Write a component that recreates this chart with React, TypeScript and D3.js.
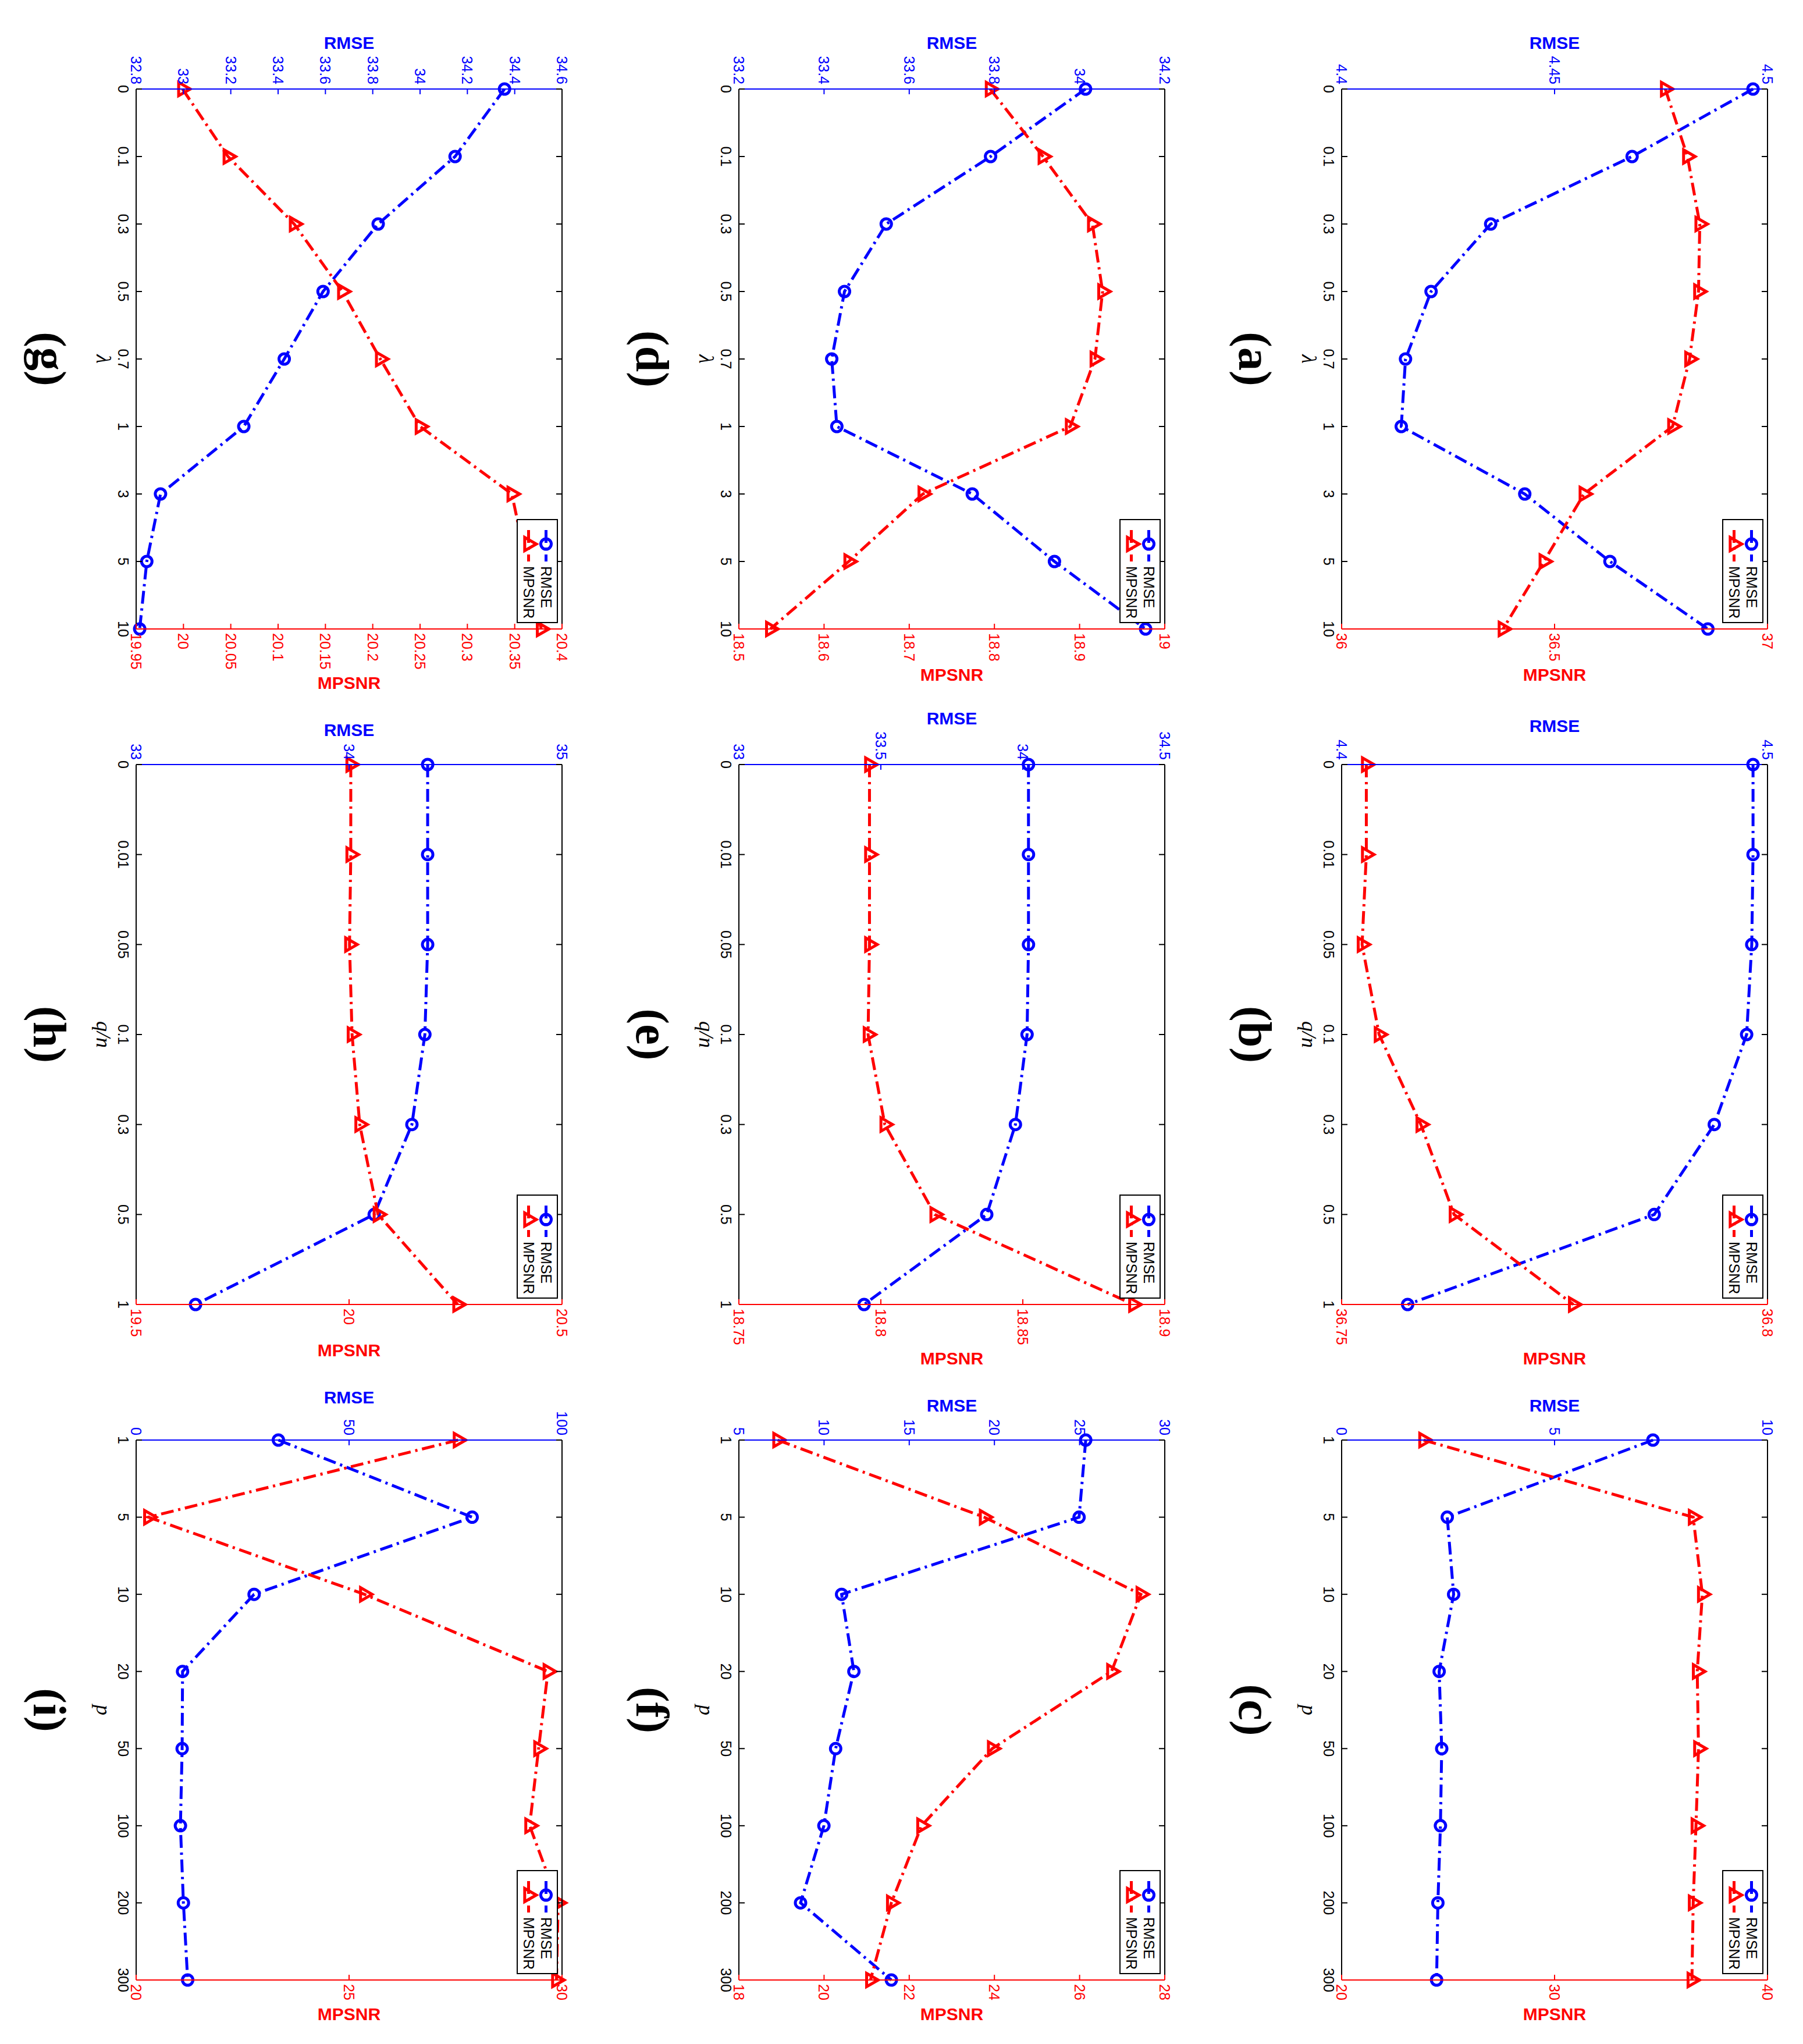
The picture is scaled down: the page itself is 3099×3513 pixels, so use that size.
import React from "react";
import * as d3 from "d3";

// category labels on the shared x axis
const lambdaCats = ["0", "0.1", "0.3", "0.5", "0.7", "1", "3", "5", "10"];
const qnCats = ["0", "0.01", "0.05", "0.1", "0.3", "0.5", "1"];
const pCats = ["1", "5", "10", "20", "50", "100", "200", "300"];

// (a) (d) (g): lambda
const rmseA = [4.4966, 4.4682, 4.435, 4.421, 4.415, 4.414, 4.443, 4.463, 4.486];
const mpsnrA = [36.76, 36.812, 36.841, 36.838, 36.817, 36.777, 36.569, 36.475, 36.379];
const rmseD = [34.014, 33.791, 33.546, 33.448, 33.418, 33.43, 33.748, 33.941, 34.155];
const mpsnrD = [18.795, 18.857, 18.915, 18.927, 18.918, 18.889, 18.716, 18.629, 18.537];
const rmseG = [34.357, 34.148, 33.823, 33.59, 33.426, 33.255, 32.903, 32.845, 32.815];
const mpsnrG = [19.999, 20.047, 20.117, 20.168, 20.208, 20.25, 20.347, 20.362, 20.378];

// (b) (e) (h): q/n
const rmseB = [4.4966, 4.4966, 4.4963, 4.4951, 4.4875, 4.4734, 4.4155];
const mpsnrB = [36.7529, 36.7529, 36.7524, 36.7544, 36.7593, 36.7632, 36.7772];
const rmseE = [34.02, 34.02, 34.02, 34.015, 33.974, 33.873, 33.441];
const mpsnrE = [18.796, 18.796, 18.796, 18.7955, 18.8014, 18.819, 18.889];
const rmseH = [34.369, 34.369, 34.369, 34.356, 34.295, 34.118, 33.279];
const mpsnrH = [20.004, 20.004, 20.001, 20.007, 20.025, 20.068, 20.255];

// (c) (f) (i): p
const rmseC = [7.31, 2.48, 2.63, 2.29, 2.35, 2.32, 2.26, 2.23];
const mpsnrC = [23.85, 36.51, 36.94, 36.7, 36.76, 36.64, 36.51, 36.45];
const rmseF = [25.36, 24.97, 11.03, 11.75, 10.68, 9.99, 8.62, 13.95];
const mpsnrF = [18.91, 23.76, 27.44, 26.75, 23.95, 22.29, 21.58, 21.09];
const rmseI = [33.4, 78.9, 27.7, 10.9, 10.8, 10.4, 11.1, 12.1];
const mpsnrI = [27.56, 20.29, 25.36, 29.67, 29.45, 29.24, 29.91, 29.87];

// tick values (first and last are the axis limits)
const rmseTicksA = [4.4, 4.45, 4.5];
const mpsnrTicksA = [36, 36.5, 37];
const rmseTicksB = [4.4, 4.5];
const mpsnrTicksB = [36.75, 36.8];
const rmseTicksC = [0, 5, 10];
const mpsnrTicksC = [20, 30, 40];
const rmseTicksD = [33.2, 33.4, 33.6, 33.8, 34, 34.2];
const mpsnrTicksD = [18.5, 18.6, 18.7, 18.8, 18.9, 19];
const rmseTicksE = [33, 33.5, 34, 34.5];
const mpsnrTicksE = [18.75, 18.8, 18.85, 18.9];
const rmseTicksF = [5, 10, 15, 20, 25, 30];
const mpsnrTicksF = [18, 20, 22, 24, 26, 28];
const rmseTicksG = [32.8, 33, 33.2, 33.4, 33.6, 33.8, 34, 34.2, 34.4, 34.6];
const mpsnrTicksG = [19.95, 20, 20.05, 20.1, 20.15, 20.2, 20.25, 20.3, 20.35, 20.4];
const rmseTicksH = [33, 34, 35];
const mpsnrTicksH = [19.5, 20, 20.5];
const rmseTicksI = [0, 50, 100];
const mpsnrTicksI = [20, 25, 30];

const panels = [
  { name: "(a)", cats: lambdaCats, xLabel: "λ", rmse: rmseA, mpsnr: mpsnrA, rt: rmseTicksA, mt: mpsnrTicksA, row: 0, col: 0 },
  { name: "(b)", cats: qnCats, xLabel: "q/n", rmse: rmseB, mpsnr: mpsnrB, rt: rmseTicksB, mt: mpsnrTicksB, row: 0, col: 1 },
  { name: "(c)", cats: pCats, xLabel: "p", rmse: rmseC, mpsnr: mpsnrC, rt: rmseTicksC, mt: mpsnrTicksC, row: 0, col: 2 },
  { name: "(d)", cats: lambdaCats, xLabel: "λ", rmse: rmseD, mpsnr: mpsnrD, rt: rmseTicksD, mt: mpsnrTicksD, row: 1, col: 0 },
  { name: "(e)", cats: qnCats, xLabel: "q/n", rmse: rmseE, mpsnr: mpsnrE, rt: rmseTicksE, mt: mpsnrTicksE, row: 1, col: 1 },
  { name: "(f)", cats: pCats, xLabel: "p", rmse: rmseF, mpsnr: mpsnrF, rt: rmseTicksF, mt: mpsnrTicksF, row: 1, col: 2 },
  { name: "(g)", cats: lambdaCats, xLabel: "λ", rmse: rmseG, mpsnr: mpsnrG, rt: rmseTicksG, mt: mpsnrTicksG, row: 2, col: 0 },
  { name: "(h)", cats: qnCats, xLabel: "q/n", rmse: rmseH, mpsnr: mpsnrH, rt: rmseTicksH, mt: mpsnrTicksH, row: 2, col: 1 },
  { name: "(i)", cats: pCats, xLabel: "p", rmse: rmseI, mpsnr: mpsnrI, rt: rmseTicksI, mt: mpsnrTicksI, row: 2, col: 2 },
];

// the figure is laid out upright, then turned 90deg clockwise onto the page
const PAGE_W = 3099;
const PAGE_H = 3513;
const colX = [153, 1314, 2475];
const rowY = [61, 1097, 2133];
const PW = 928;
const PH = 732;

const BLUE = "#0000ff";
const RED = "#ff0000";
const SANS = "'Liberation Sans', Arial, Helvetica, sans-serif";
const SERIF = "'Liberation Serif', 'Times New Roman', serif";
const TICK_FS = 25;
const DASH = "22 8 4 8";
const LW = 5;

// rough Arial width of a tick label, used to push the y labels out
function textW(s: string, size: number) {
  let w = 0;
  for (const c of s) w += c === "." ? 0.278 : c === "-" ? 0.333 : 0.556;
  return w * size;
}

const tri = d3.symbol().type(d3.symbolTriangle).size(230)() as string;

function Panel({ p }: { p: any }) {
  const x = d3.scalePoint<string>().domain(p.cats).range([0, PW]);
  const yL = d3.scaleLinear().domain(d3.extent(p.rt) as [number, number]).range([PH, 0]);
  const yR = d3.scaleLinear().domain(d3.extent(p.mt) as [number, number]).range([PH, 0]);

  const lineL = d3.line<number>().x((d, i) => x(p.cats[i]) as number).y((d) => yL(d));
  const lineR = d3.line<number>().x((d, i) => x(p.cats[i]) as number).y((d) => yR(d));

  const maxL = d3.max(p.rt, (t: number) => textW(String(t), 24)) as number;
  const maxR = d3.max(p.mt, (t: number) => textW(String(t), 24)) as number;
  const labLx = -8 - maxL - 25;
  const labRx = PW + 7 + maxR + 25;

  const lgW = 177;
  const lgH = 69;
  const lgX = PW - 11 - lgW;
  const lgY = 8;

  return (
    <g transform={`translate(${colX[p.col]},${rowY[p.row]})`}>
      {/* data */}
      <path d={lineL(p.rmse) as string} fill="none" stroke={BLUE} strokeWidth={LW} strokeDasharray={DASH} />
      {p.rmse.map((d: number, i: number) => (
        <circle key={"c" + i} cx={x(p.cats[i])} cy={yL(d)} r={9} fill="none" stroke={BLUE} strokeWidth={LW} />
      ))}
      <path d={lineR(p.mpsnr) as string} fill="none" stroke={RED} strokeWidth={LW} strokeDasharray={DASH} />
      {p.mpsnr.map((d: number, i: number) => (
        <path key={"t" + i} d={tri} transform={`translate(${x(p.cats[i])},${yR(d)})`} fill="none" stroke={RED} strokeWidth={LW} />
      ))}

      {/* left axis (RMSE) */}
      <line x1={0} x2={0} y1={0} y2={PH} stroke={BLUE} strokeWidth={2} />
      {p.rt.map((t: number) => (
        <g key={"l" + t}>
          <line x1={0} x2={9} y1={yL(t)} y2={yL(t)} stroke={BLUE} strokeWidth={2} />
          <text x={-8} y={yL(t) + 9} textAnchor="end" fontFamily={SANS} fontSize={TICK_FS} fill={BLUE}>
            {String(t)}
          </text>
        </g>
      ))}
      <text x={labLx} y={PH / 2} transform={`rotate(-90,${labLx},${PH / 2})`} textAnchor="middle" dominantBaseline="central"
        fontFamily={SANS} fontWeight="bold" fontSize={30} fill={BLUE}>RMSE</text>

      {/* x axis, bottom and top */}
      <line x1={0} x2={PW} y1={PH} y2={PH} stroke="#000" strokeWidth={2} />
      <line x1={0} x2={PW} y1={0} y2={0} stroke="#000" strokeWidth={2} />
      {p.cats.map((c: string) => (
        <g key={"x" + c}>
          <line x1={x(c)} x2={x(c)} y1={PH} y2={PH - 10} stroke="#000" strokeWidth={2} />
          <line x1={x(c)} x2={x(c)} y1={0} y2={10} stroke="#000" strokeWidth={2} />
          <text x={x(c)} y={PH + 31} textAnchor="middle" fontFamily={SANS} fontSize={TICK_FS} fill="#000">{c}</text>
        </g>
      ))}
      <text x={PW / 2} y={PH + 56} textAnchor="middle" dominantBaseline="central" fontFamily={SERIF} fontStyle="italic"
        fontSize={36} fill="#000">{p.xLabel}</text>
      <text x={PW / 2} y={PH + 149} textAnchor="middle" dominantBaseline="central" fontFamily={SERIF} fontWeight="bold"
        fontSize={80} fill="#000">{p.name}</text>

      {/* right axis (MPSNR) */}
      <line x1={PW} x2={PW} y1={0} y2={PH} stroke={RED} strokeWidth={2} />
      {p.mt.map((t: number) => (
        <g key={"r" + t}>
          <line x1={PW} x2={PW - 9} y1={yR(t)} y2={yR(t)} stroke={RED} strokeWidth={2} />
          <text x={PW + 7} y={yR(t) + 9} textAnchor="start" fontFamily={SANS} fontSize={TICK_FS} fill={RED}>
            {String(t)}
          </text>
        </g>
      ))}
      <text x={labRx} y={PH / 2} transform={`rotate(-90,${labRx},${PH / 2})`} textAnchor="middle" dominantBaseline="central"
        fontFamily={SANS} fontWeight="bold" fontSize={30} fill={RED}>MPSNR</text>

      {/* legend */}
      <g transform={`translate(${lgX},${lgY})`}>
        <rect width={lgW} height={lgH} fill="#fff" stroke="#000" strokeWidth={2} />
        <line x1={12} x2={72} y1={19.5} y2={19.5} stroke={BLUE} strokeWidth={LW} strokeDasharray={DASH} strokeDashoffset={-6} />
        <circle cx={42} cy={19.5} r={9} fill="none" stroke={BLUE} strokeWidth={LW} />
        <text x={80} y={19.5 + 9} fontFamily={SANS} fontSize={TICK_FS} fill="#000">RMSE</text>
        <line x1={12} x2={72} y1={49.5} y2={49.5} stroke={RED} strokeWidth={LW} strokeDasharray={DASH} strokeDashoffset={-6} />
        <path d={tri} transform="translate(42,49.5)" fill="none" stroke={RED} strokeWidth={LW} />
        <text x={80} y={49.5 + 9} fontFamily={SANS} fontSize={TICK_FS} fill="#000">MPSNR</text>
      </g>
    </g>
  );
}

export default function App() {
  return (
    <svg width={PAGE_W} height={PAGE_H} style={{ position: "absolute", left: 0, top: 0, display: "block" }}>
      <rect width={PAGE_W} height={PAGE_H} fill="#fff" />
      <g transform={`translate(${PAGE_W},0) rotate(90)`}>
        {panels.map((p) => (
          <Panel key={p.name} p={p} />
        ))}
      </g>
    </svg>
  );
}
